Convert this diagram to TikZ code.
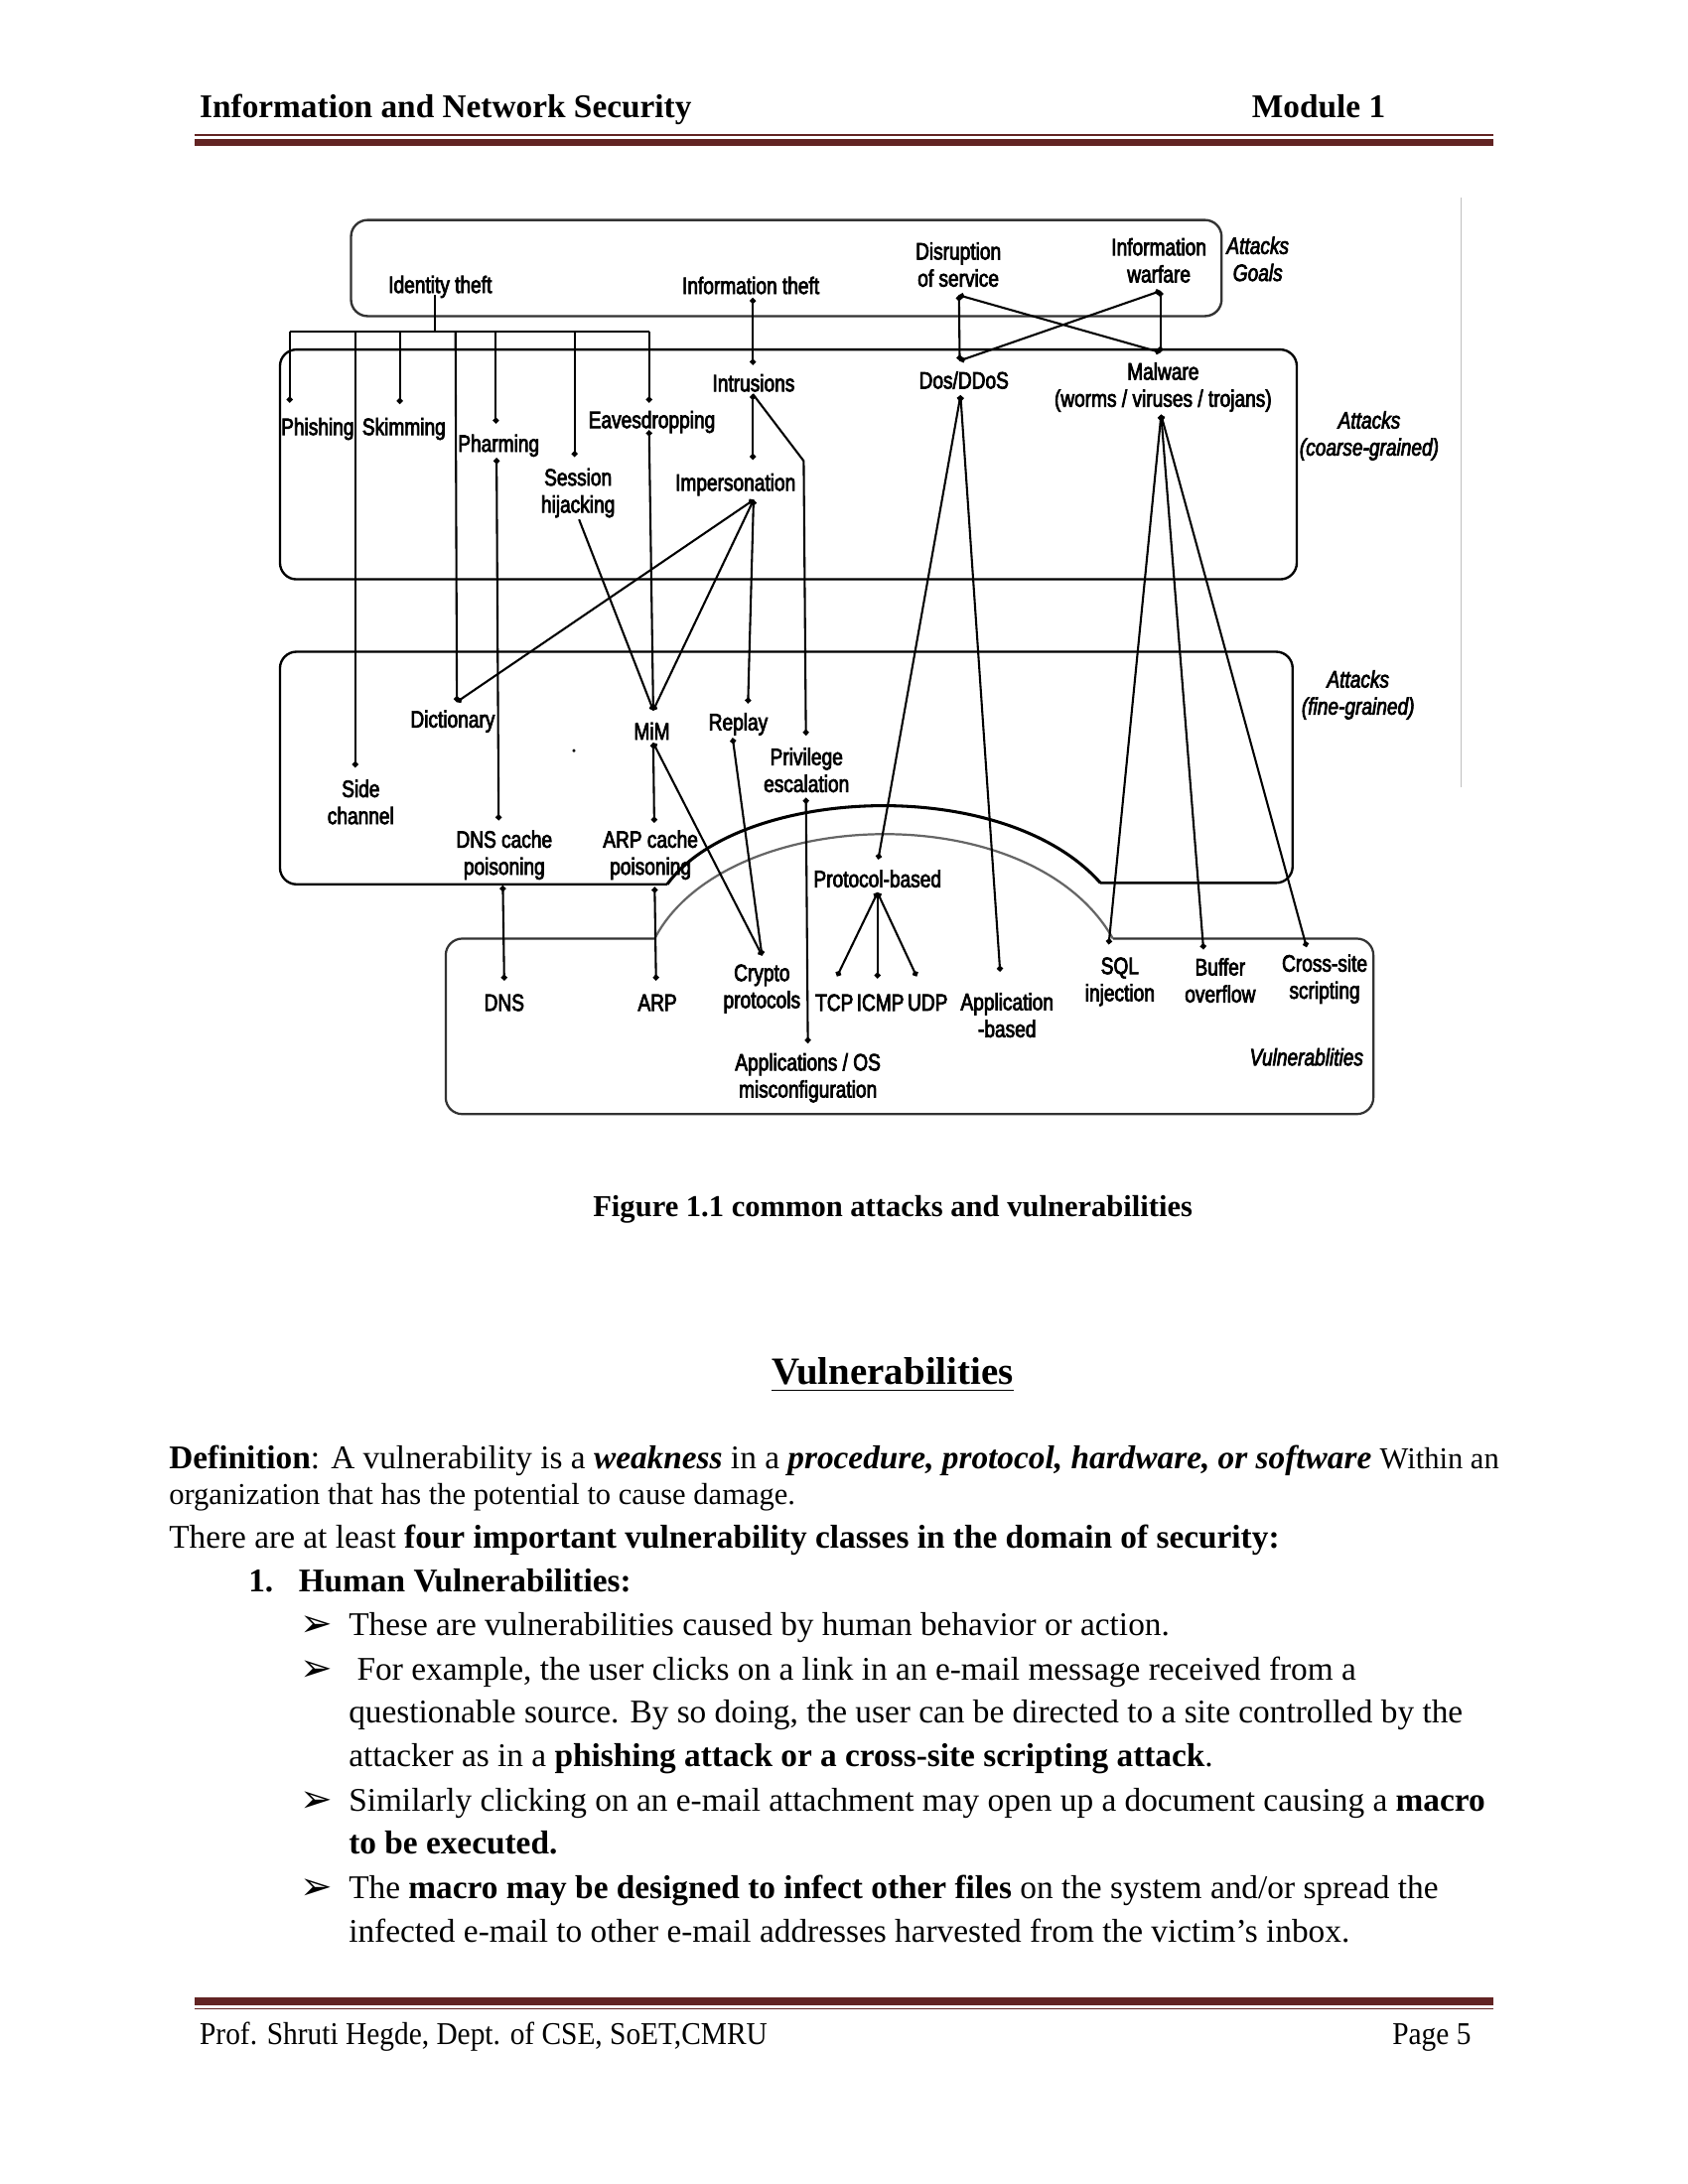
\documentclass[tikz,border=0pt]{standalone}
\usepackage{fontspec}
\setmainfont{Liberation Serif}
\newfontfamily\dgf[FakeStretch=0.8,FakeBold=3]{Liberation Sans}
\newfontfamily\symf{DejaVu Sans}
\newfontfamily\footf[FakeStretch=0.92]{Liberation Serif}
\usetikzlibrary{arrows.meta}
\definecolor{hdr}{HTML}{622423}
\begin{document}
\begin{tikzpicture}[x=0.505pt,y=-0.505pt,
  dg/.style={font=\dgf\fontsize{8.6}{9.8}\selectfont, inner sep=0pt, align=center, yshift=-1pt},
  dgi/.style={font=\dgf\itshape\fontsize{8.6}{9.8}\selectfont, inner sep=0pt, align=center, yshift=-1pt},
  ln/.style={line width=0.75pt},
  dot/.style={ln,-{Circle[length=2.1pt]}},
  dots/.style={ln,{Circle[length=2.1pt]}-{Circle[length=2.1pt]}},
  frame/.style={line width=0.85pt, rounded corners=6pt},
  body/.style={font=\fontsize{12}{14}\selectfont, inner sep=0pt, anchor=base west, yshift=-1.2pt},
  bul/.style={font=\symf\fontsize{14}{16}\selectfont, inner sep=0pt, anchor=base west, yshift=-1.2pt},
]
\fill[white] (0pt,0pt) rectangle (612pt,-792pt);
\path[use as bounding box] (0pt,0pt) rectangle (612pt,-792pt);

% ---------- header ----------
\node[font=\bfseries\fontsize{12}{14}\selectfont, anchor=base west, inner sep=0pt, yshift=-1.2pt] (hl) at (143,82) {Information and Network Security};
\node[font=\bfseries\fontsize{12}{14}\selectfont, anchor=base east, inner sep=0pt, yshift=-1.2pt] (hr) at (995,82) {Module 1};
\draw[hdr, line width=0.5pt] (140,97) -- (1072,97);
\fill[hdr] (140,99.5) rectangle (1072,105);

% ---------- diagram frames ----------
\draw[frame, black!80] (252,158) rectangle (877,227);
\draw[frame] (201,251) rectangle (931,416);
\draw[frame] (479,635) -- (201,635) -- (201,468) -- (928,468) -- (928,634) -- (790,634);
\draw[line width=1.1pt] (479,635) .. controls (530,565) and (720,555) .. (790,634);
\draw[frame, black!80, line width=0.8pt] (470,674) -- (320,674) -- (320,800) -- (986,800) -- (986,674) -- (799,674);
\draw[black!60, line width=0.8pt] (470,674) .. controls (520,578) and (740,570) .. (799,674);
\draw[black!25, line width=0.6pt] (1049,142) -- (1049,565);
\fill (412,539) circle (1.2);

% ---------- goals ----------
\node[dg] (idt) at (316,204) {Identity theft};
\node[dg] (ift) at (539,203) {Information theft};
\node[dg] (dis) at (688,188) {Disruption\\of service};
\node[dg] (war) at (832,185) {Information\\warfare};
\node[dgi] (goalsl) at (903,184) {Attacks\\Goals};

% ---------- coarse ----------
\node[dg] (phi) at (228,306) {Phishing};
\node[dg] (ski) at (290,306) {Skimming};
\node[dg] (pha) at (358,318) {Pharming};
\node[dg] (eav) at (468,301) {Eavesdropping};
\node[dg] (ses) at (415,352) {Session\\hijacking};
\node[dg] (int) at (541,273) {Intrusions};
\node[dg] (imp) at (528,346) {Impersonation};
\node[dg] (dos) at (692,271) {Dos/DDoS};
\node[dg] (mal) at (835,276) {Malware\\(worms / viruses / trojans)};
\node[dgi] (coarsel) at (983,311) {Attacks\\(coarse-grained)};

% ---------- fine ----------
\node[dg] (dic) at (325,516) {Dictionary};
\node[dg] (mim) at (468,523) {MiM};
\node[dg] (rep) at (530,518) {Replay};
\node[dg] (pri) at (579,551) {Privilege\\escalation};
\node[dg] (sid) at (259,574) {Side\\channel};
\node[dg] (dnc) at (362,612) {DNS cache\\poisoning};
\node[dg] (arc) at (467,612) {ARP cache\\poisoning};
\node[dg] (pro) at (630,629) {Protocol-based};
\node[dgi] (finel) at (975,497) {Attacks\\(fine-grained)};

% ---------- vulnerabilities ----------
\node[dg] (dns) at (362,718) {DNS};
\node[dg] (arp) at (472,718) {ARP};
\node[dg] (cry) at (547,708) {Crypto\\protocols};
\node[dg] (tcp) at (599,718) {TCP};
\node[dg] (icm) at (632,718) {ICMP};
\node[dg] (udp) at (666,718) {UDP};
\node[dg] (apb) at (723,727) {Application\\-based};
\node[dg] (aos) at (580,772) {Applications / OS\\misconfiguration};
\node[dg] (sql) at (804,703) {SQL\\injection};
\node[dg] (buf) at (876,702) {Buffer\\overflow};
\node[dg] (xss) at (951,701) {Cross-site\\scripting};
\node[dgi] (vull) at (938,757) {Vulnerablities};

% ---------- anchor points ----------
\coordinate (idt-b) at (312,212);
\coordinate (bus) at (312,238);
\coordinate (b1) at (208,238);
\coordinate (b2) at (255,238);
\coordinate (b3) at (287,238);
\coordinate (b4) at (327,238);
\coordinate (b5) at (356,238);
\coordinate (b6) at (412.5,238);
\coordinate (b7) at (466,238);
\coordinate (phi-t) at (208,289);
\coordinate (sid-t) at (255,551);
\coordinate (ski-t) at (287,290);
\coordinate (dic-t) at (328,504);
\coordinate (pha-t) at (356,304);
\coordinate (pha-b) at (356.5,329);
\coordinate (ses-t) at (412.5,328);
\coordinate (ses-b) at (415.7,373);
\coordinate (eav-t) at (466,289);
\coordinate (eav-b) at (466,309);
\coordinate (ift-b) at (540.5,214);
\coordinate (int-t) at (540.5,262);
\coordinate (int-b) at (540.5,283);
\coordinate (imp-t) at (540.5,330);
\coordinate (imp-b) at (541,359);
\coordinate (bend) at (577,331);
\coordinate (pri-t) at (578.6,528);
\coordinate (pri-b) at (578.6,573);
\coordinate (dis-b) at (688.5,212);
\coordinate (war-b) at (833,209);
\coordinate (dos-t) at (689,259);
\coordinate (dos-b) at (689.6,284);
\coordinate (mal-t) at (833,253);
\coordinate (mal-b) at (833.6,298);
\coordinate (mim-t) at (469,510);
\coordinate (mim-b) at (469,533.5);
\coordinate (rep-t) at (537,505);
\coordinate (rep-b) at (526,530);
\coordinate (dnc-t) at (358,589);
\coordinate (dnc-b) at (361,636);
\coordinate (arc-t) at (469.7,590.6);
\coordinate (arc-b) at (470,637);
\coordinate (pro-t) at (630.5,617);
\coordinate (pro-b) at (630,641);
\coordinate (dns-t) at (362,704);
\coordinate (arp-t) at (471,704);
\coordinate (cry-t) at (547,686);
\coordinate (tcp-t) at (601,701);
\coordinate (icm-t) at (630,702.5);
\coordinate (udp-t) at (658,701);
\coordinate (apb-t) at (718,697.6);
\coordinate (aos-t) at (580,749);
\coordinate (sql-t) at (796,678);
\coordinate (buf-t) at (864,681.6);
\coordinate (xss-t) at (938,680);

% ---------- connectors ----------
\draw[ln] (idt-b) -- (bus);
\draw[ln] (b1) -- (b7);
\draw[dot] (b1) -- (phi-t);
\draw[dot] (b2) -- (sid-t);
\draw[dot] (b3) -- (ski-t);
\draw[dot] (b4) -- (dic-t);
\draw[dot] (b5) -- (pha-t);
\draw[dot] (b6) -- (ses-t);
\draw[dot] (b7) -- (eav-t);
\draw[dots] (ift-b) -- (int-t);
\draw[dots] (int-b) -- (imp-t);
\draw[dot] (int-b) -- (bend) -- (pri-t);
\draw[dots] (pha-b) -- (dnc-t);
\draw[dots] (eav-b) -- (mim-t);
\draw[dot] (ses-b) -- (mim-t);
\draw[dots] (imp-b) -- (dic-t);
\draw[dots] (imp-b) -- (mim-t);
\draw[dots] (imp-b) -- (rep-t);
\draw[dots] (dis-b) -- (dos-t);
\draw[dots] (dis-b) -- (mal-t);
\draw[dots] (war-b) -- (dos-t);
\draw[dots] (war-b) -- (mal-t);
\draw[dots] (dos-b) -- (pro-t);
\draw[dots] (dos-b) -- (apb-t);
\draw[dots] (mal-b) -- (sql-t);
\draw[dots] (mal-b) -- (buf-t);
\draw[dots] (mal-b) -- (xss-t);
\draw[dots] (mim-b) -- (arc-t);
\draw[dots] (mim-b) -- (cry-t);
\draw[dots] (rep-b) -- (cry-t);
\draw[dots] (pri-b) -- (aos-t);
\draw[dots] (dnc-b) -- (dns-t);
\draw[dots] (arc-b) -- (arp-t);
\draw[dots] (pro-b) -- (tcp-t);
\draw[dots] (pro-b) -- (icm-t);
\draw[dots] (pro-b) -- (udp-t);

% ---------- caption & body ----------
\node[font=\bfseries\fontsize{11}{13}\selectfont, anchor=base, inner sep=0pt, yshift=-1.2pt] (cap) at (641,871) {Figure 1.1 common attacks and vulnerabilities};
\node[font=\bfseries\fontsize{14}{16}\selectfont, anchor=base, inner sep=0pt, yshift=-1.2pt] (vh) at (641,992) {Vulnerabilities};
\draw[line width=0.7pt] ([yshift=-2pt]vh.base west) -- ([yshift=-2pt]vh.base east);

\node[body] (d1) at (121,1052) {\textbf{Definition}: A vulnerability is a \textbf{\textit{weakness}} in a \textbf{\textit{procedure, protocol, hardware, or software}} {\fontsize{11}{13}\selectfont Within an}};
\node[body, font=\fontsize{11}{13}\selectfont] (d2) at (121,1078) {organization that has the potential to cause damage.};
\node[body] (d3) at (121,1109) {There are at least \textbf{four important vulnerability classes in the domain of security:}};
\node[body, font=\bfseries\fontsize{12}{14}\selectfont] (n1) at (178,1141) {1.};
\node[body, font=\bfseries\fontsize{12}{14}\selectfont] (h1) at (214,1141) {Human Vulnerabilities:};

\node[bul] (k1) at (215,1173) {➢};
\node[body] (t1) at (250,1172) {These are vulnerabilities caused by human behavior or action.};
\node[bul] (k2) at (215,1205) {➢};
\node[body] (t2) at (256,1204) {For example, the user clicks on a link in an e-mail message received from a};
\node[body] (t3) at (250,1235) {questionable source. By so doing, the user can be directed to a site controlled by the};
\node[body] (t4) at (250,1266) {attacker as in a \textbf{phishing attack or a cross-site scripting attack}.};
\node[bul] (k3) at (215,1299) {➢};
\node[body] (t5) at (250,1298) {Similarly clicking on an e-mail attachment may open up a document causing a \textbf{macro}};
\node[body, font=\bfseries\fontsize{12}{14}\selectfont] (t6) at (250,1329) {to be executed.};
\node[bul] (k4) at (215,1362) {➢};
\node[body] (t7) at (250,1361) {The \textbf{macro may be designed to infect other files} on the system and/or spread the};
\node[body] (t8) at (250,1392) {infected e-mail to other e-mail addresses harvested from the victim's inbox.};

% ---------- footer ----------
\fill[hdr] (140,1434.6) rectangle (1072,1440);
\draw[hdr, line width=0.5pt] (140,1442.4) -- (1072,1442.4);
\node[font=\footf\fontsize{11.5}{13}\selectfont, anchor=base west, inner sep=0pt, yshift=-1.2pt] (fl) at (143,1466) {Prof. Shruti Hegde, Dept. of CSE, SoET,CMRU};
\node[font=\footf\fontsize{11.5}{13}\selectfont, anchor=base east, inner sep=0pt, yshift=-1.2pt] (fr) at (1056.5,1466) {Page 5};
\end{tikzpicture}
\end{document}
